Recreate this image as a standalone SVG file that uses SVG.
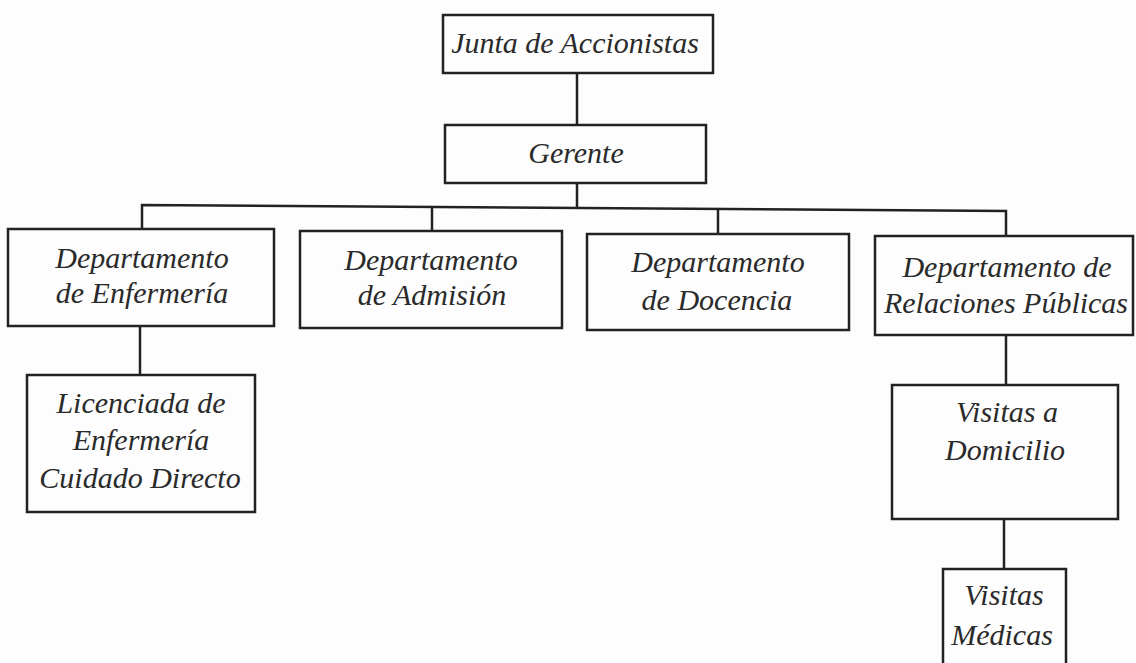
<svg xmlns="http://www.w3.org/2000/svg" width="1136" height="663" viewBox="0 0 1136 663">
<style>
.box{fill:none;stroke:#222;stroke-width:2.5}
.ln{fill:none;stroke:#222;stroke-width:2.5}
text{font-family:"Liberation Serif","Times New Roman",serif;font-style:italic;font-size:30px;fill:#2a2a2a;text-anchor:middle}
</style>
<rect width="1136" height="663" fill="#fdfdfd"/>
<g id="connectors">
<path class="ln" d="M577 73 V125"/>
<path class="ln" d="M577 183 V207"/>
<path class="ln" d="M142 229 V205 L1006 211 V235"/>
<path class="ln" d="M432 206 V231"/>
<path class="ln" d="M718 209 V234"/>
<path class="ln" d="M140 326 V375"/>
<path class="ln" d="M1006 335 V385"/>
<path class="ln" d="M1004 519 V569"/>
</g>
<g id="junta">
<rect class="box" x="443" y="15" width="270" height="58"/>
<text x="575" y="53">Junta de Accionistas</text>
</g>
<g id="gerente">
<rect class="box" x="445" y="125" width="261" height="58"/>
<text x="576" y="163">Gerente</text>
</g>
<g id="enfermeria">
<rect class="box" x="8" y="229" width="266" height="97"/>
<text x="142" y="268">Departamento</text>
<text x="142" y="303">de Enfermería</text>
</g>
<g id="admision">
<rect class="box" x="300" y="231" width="262" height="97"/>
<text x="431" y="270">Departamento</text>
<text x="432" y="305">de Admisión</text>
</g>
<g id="docencia">
<rect class="box" x="587" y="234" width="262" height="96"/>
<text x="718" y="272">Departamento</text>
<text x="717" y="310">de Docencia</text>
</g>
<g id="relaciones">
<rect class="box" x="875" y="236" width="258" height="99"/>
<text x="1007" y="277">Departamento de</text>
<text x="1006" y="313">Relaciones Públicas</text>
</g>
<g id="licenciada">
<rect class="box" x="27" y="375" width="228" height="137"/>
<text x="141" y="413">Licenciada de</text>
<text x="141" y="450">Enfermería</text>
<text x="140" y="488">Cuidado Directo</text>
</g>
<g id="domicilio">
<rect class="box" x="892" y="385" width="226" height="134"/>
<text x="1007" y="422">Visitas a</text>
<text x="1005" y="460">Domicilio</text>
</g>
<g id="medicas">
<rect class="box" x="943" y="569" width="123" height="110"/>
<text x="1004" y="605">Visitas</text>
<text x="1002" y="645">Médicas</text>
</g>
</svg>
